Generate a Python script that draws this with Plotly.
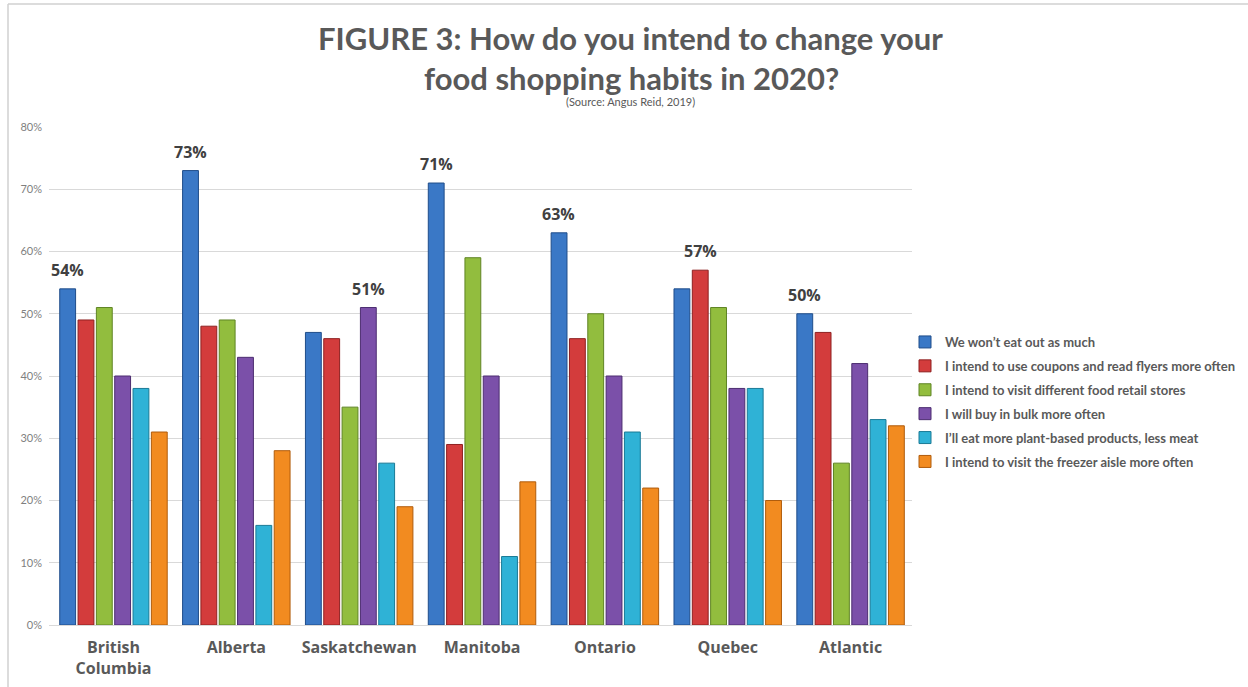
import plotly.graph_objects as go

# Survey results by region (share of respondents, %)
regions = ["British<br>Columbia", "Alberta", "Saskatchewan", "Manitoba",
           "Ontario", "Quebec", "Atlantic"]

series_names = [
    "We won\u2019t eat out as much",
    "I intend to use coupons and read flyers more often",
    "I intend to visit different food retail stores",
    "I will buy in bulk more often",
    "I\u2019ll eat more plant-based products, less meat",
    "I intend to visit the freezer aisle more often",
]

eat_out_less = [54, 73, 47, 71, 63, 54, 50]
coupons_flyers = [49, 48, 46, 29, 46, 57, 47]
different_stores = [51, 49, 35, 59, 50, 51, 26]
buy_in_bulk = [40, 43, 51, 40, 40, 38, 42]
plant_based = [38, 16, 26, 11, 31, 38, 33]
freezer_aisle = [31, 28, 19, 23, 22, 20, 32]

series_values = [eat_out_less, coupons_flyers, different_stores,
                 buy_in_bulk, plant_based, freezer_aisle]

y_ticks = [0, 10, 20, 30, 40, 50, 60, 70, 80]

fills = ["#3a78c6", "#d33c3c", "#92bd3e", "#7b50a9", "#2fb2d6", "#f28b20"]
edges = ["#1f4d8a", "#8e2020", "#5f8424", "#4c2d70", "#1a7a96", "#b05c0c"]

W, H = 1248, 687
PL, PR, PT, PB = 49, 912, 127, 625   # plot area in pixels


def px_x(px):
    return (px - PL) / (PR - PL)


def px_y(py):
    return (PB - py) / (PB - PT)


fig = go.Figure()
for i, (name, vals) in enumerate(zip(series_names, series_values)):
    fig.add_trace(go.Bar(
        x=regions,
        y=[v / 100 for v in vals],
        name=name,
        legendgroup=f"g{i}",
        marker=dict(color=fills[i], line=dict(color=edges[i], width=1)),
        hoverinfo="skip",
    ))

bargap = 0.105
n_series = len(series_values)
cat_px = (PR - PL) / len(regions)
slot_px = cat_px * (1 - bargap) / n_series

annotations = []
# label the highest bar of every region
for j, region in enumerate(regions):
    col = [s[j] for s in series_values]
    k = col.index(max(col))
    annotations.append(dict(
        x=region, y=col[k] / 100, xref="x", yref="y",
        text=f"{col[k]}%", showarrow=False,
        xshift=(k - (n_series - 1) / 2) * slot_px, yshift=19,
        font=dict(family="Open Sans", size=16, color="#404040", weight="bold"),
    ))

title_font = dict(family="Lato", size=31, color="#595959", weight="bold")
annotations += [
    dict(x=px_x(630), y=px_y(38), xref="paper", yref="paper",
         xanchor="center", yanchor="middle",
         text="FIGURE 3: How do you intend to change your",
         showarrow=False, font=title_font),
    dict(x=px_x(631), y=px_y(78), xref="paper", yref="paper",
         xanchor="center", yanchor="middle",
         text="food shopping habits in 2020?",
         showarrow=False, font=title_font),
    dict(x=px_x(630), y=px_y(101), xref="paper", yref="paper",
         xanchor="center", yanchor="middle",
         text="(Source: Angus Reid, 2019)",
         showarrow=False, font=dict(family="Lato", size=11, color="#595959")),
]

fig.update_layout(
    width=W, height=H,
    margin=dict(l=PL, r=W - PR, t=PT, b=H - PB, pad=0, autoexpand=False),
    paper_bgcolor="white", plot_bgcolor="white",
    barmode="group", bargap=bargap, bargroupgap=0.135,
    showlegend=True,
    legend=dict(
        x=px_x(905), y=px_y(327), xanchor="left", yanchor="top",
        font=dict(family="Lato", size=13, color="#595959", weight="bold"),
        traceorder="grouped", tracegroupgap=4, itemwidth=30,
        bgcolor="rgba(0,0,0,0)",
    ),
    xaxis=dict(
        showgrid=False, showline=False, ticks="",
        tickfont=dict(family="Open Sans", size=16, color="#595959", weight="bold"),
        ticklabelstandoff=11,
    ),
    yaxis=dict(
        range=[0, 0.8], tickvals=[t / 100 for t in y_ticks],
        ticktext=[f"{t}%" for t in y_ticks],
        showgrid=True, gridcolor="#d9d9d9", gridwidth=1,
        zeroline=True, zerolinecolor="#d9d9d9", zerolinewidth=1,
        showline=False, ticks="",
        tickfont=dict(family="Lato", size=11, color="#7f7f7f"),
        ticklabelstandoff=6,
    ),
    annotations=annotations,
    shapes=[
        # chart frame (top and left edges)
        dict(type="line", xref="paper", yref="paper",
             x0=px_x(8), x1=px_x(W + 5), y0=px_y(4), y1=px_y(4),
             line=dict(color="#d0d0d0", width=1.5)),
        dict(type="line", xref="paper", yref="paper",
             x0=px_x(8), x1=px_x(8), y0=px_y(4), y1=px_y(H + 5),
             line=dict(color="#d0d0d0", width=1.5)),
    ],
)

fig.write_html("out.html")
